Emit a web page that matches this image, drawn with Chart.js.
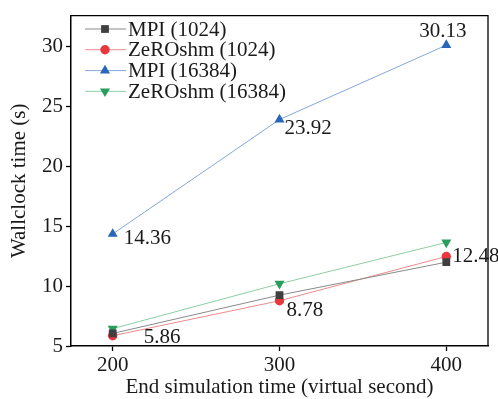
<!DOCTYPE html>
<html><head><meta charset="utf-8">
<script src="https://cdn.jsdelivr.net/npm/chart.js@4/dist/chart.umd.min.js"></script>
<style>html,body{margin:0;padding:0;background:#fff}#wrap{width:498px;height:399px}</style>
</head><body><div id="wrap"><canvas id="c" width="498" height="399"></canvas></div>
<script>
// ---- data ----
const xValues = [200, 300, 400];
const xTicks = [200, 300, 400];
const yTicks = [5, 10, 15, 20, 25, 30];
const seriesNames = ["MPI (1024)", "ZeROshm (1024)", "MPI (16384)", "ZeROshm (16384)"];
const mpi1024 = [6.05, 9.25, 12.0];
const zero1024 = [5.86, 8.78, 12.48];
const mpi16384 = [14.36, 23.92, 30.13];
const zero16384 = [6.45, 10.2, 13.65];
// which points carry a value label: [seriesIndex, pointIndex]
const labeledPoints = [[1,0],[1,1],[1,2],[2,0],[2,1],[2,2]];

// ---- styles ----
const markerColors = ["#3f3f3f", "#e8383d", "#2766b8", "#2a9d5c"];
const lineColors = ["#8a8a8a", "#ee8a8c", "#86a6db", "#8ccfa6"];
const pointStyles = ["rect", "circle", "triangle", "triangle"];
const pointRotations = [0, 0, 0, 180];
const pointRadii = [5.5, 4.7, 5.8, 5.8];
const labelOffsets = [
  {dx: 31, dy: 1.5, align: "left"},
  {dx: 7, dy: 10, align: "left"},
  {dx: 6, dy: 0, align: "left"},
  {dx: 11, dy: 4.5, align: "left"},
  {dx: 5, dy: 9, align: "left"},
  {dx: -3.5, dy: -14, align: "center"}
];
const FONT = "'Liberation Serif', 'Times New Roman', serif";
const textColor = "#1a1a1a";

const allSeries = [mpi1024, zero1024, mpi16384, zero16384];
const datasets = allSeries.map((vals, k) => ({
  label: seriesNames[k],
  data: vals.map((v, i) => ({x: xValues[i], y: v})),
  borderColor: lineColors[k],
  backgroundColor: markerColors[k],
  pointBackgroundColor: markerColors[k],
  pointBorderColor: markerColors[k],
  pointBorderWidth: 0,
  borderWidth: 1,
  pointStyle: pointStyles[k],
  rotation: pointRotations[k],
  pointRadius: pointRadii[k],
  pointHoverRadius: pointRadii[k],
  tension: 0,
  fill: false
}));

const framePlugin = {
  id: "frame",
  afterDraw(chart) {
    const {ctx, chartArea: a} = chart;
    ctx.save();
    ctx.strokeStyle = "#000";
    ctx.lineWidth = 1.3;
    ctx.beginPath();
    ctx.moveTo(a.left, a.top);
    ctx.lineTo(a.right, a.top);
    ctx.lineTo(a.right, a.bottom);
    ctx.stroke();
    ctx.restore();
  }
};

const labelPlugin = {
  id: "valueLabels",
  afterDatasetsDraw(chart) {
    const ctx = chart.ctx;
    ctx.save();
    ctx.font = "21px " + FONT;
    ctx.fillStyle = textColor;
    ctx.textBaseline = "middle";
    labeledPoints.forEach(([s, i], n) => {
      const el = chart.getDatasetMeta(s).data[i];
      const off = labelOffsets[n];
      ctx.textAlign = off.align;
      ctx.fillText(allSeries[s][i].toFixed(2), el.x + off.dx, el.y + off.dy);
    });
    ctx.restore();
  }
};

const legendPlugin = {
  id: "customLegend",
  afterDraw(chart) {
    const ctx = chart.ctx;
    const x0 = 85, x1 = 126, mx = 105, tx = 128;
    const rows = [29, 49.7, 70.6, 91.3];
    ctx.save();
    ctx.font = "21px " + FONT;
    ctx.textBaseline = "middle";
    ctx.textAlign = "left";
    seriesNames.forEach((name, k) => {
      const y = rows[k];
      ctx.strokeStyle = lineColors[k];
      ctx.lineWidth = 1;
      ctx.beginPath(); ctx.moveTo(x0, y); ctx.lineTo(x1, y); ctx.stroke();
      ctx.fillStyle = markerColors[k];
      ctx.strokeStyle = markerColors[k];
      Chart.helpers.drawPoint(ctx, {pointStyle: pointStyles[k], rotation: pointRotations[k], radius: pointRadii[k], borderWidth: 0}, mx, y);
      ctx.fillStyle = textColor;
      ctx.fillText(name, tx, y + 1);
    });
    ctx.restore();
  }
};

new Chart(document.getElementById("c"), {
  type: "line",
  data: {datasets},
  options: {
    responsive: false,
    devicePixelRatio: 1,
    animation: false,
    events: [],
    layout: {padding: {left: 0, right: 10, top: 11, bottom: 0}},
    plugins: {legend: {display: false}, tooltip: {enabled: false}},
    scales: {
      x: {
        type: "linear",
        min: 175, max: 425,
        afterBuildTicks: s => { s.ticks = xTicks.map(v => ({value: v})); },
        afterFit: s => { s.height = 53; },
        grid: {drawOnChartArea: false, drawTicks: true, tickLength: 5, color: "#000", tickWidth: 1.3},
        border: {display: true, color: "#000", width: 1.5},
        ticks: {font: {family: FONT, size: 21}, color: textColor, padding: 2, maxRotation: 0},
        title: {display: true, text: "End simulation time (virtual second)", font: {family: FONT, size: 21, lineHeight: 1.05}, color: textColor, padding: {top: 0, bottom: 0}}
      },
      y: {
        type: "linear",
        min: 5, max: 32.6,
        afterBuildTicks: s => { s.ticks = yTicks.map(v => ({value: v})); },
        afterFit: s => { s.width = 71; },
        grid: {drawOnChartArea: false, drawTicks: true, tickLength: 5, color: "#000", tickWidth: 1.3},
        border: {display: true, color: "#000", width: 1.5},
        ticks: {font: {family: FONT, size: 21}, color: textColor, padding: 3},
        title: {display: true, text: "Wallclock time (s)", font: {family: FONT, size: 21}, color: textColor, padding: {top: 7, bottom: 0}}
      }
    }
  },
  plugins: [framePlugin, labelPlugin, legendPlugin]
});
</script>
</body></html>
